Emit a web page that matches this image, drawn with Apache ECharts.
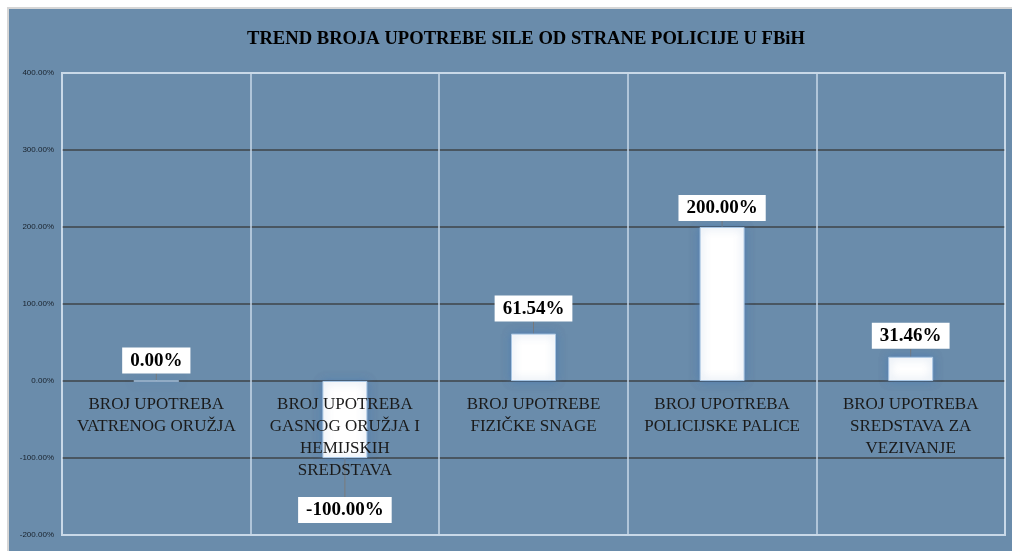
<!DOCTYPE html>
<html>
<head>
<meta charset="utf-8">
<script src="https://cdn.jsdelivr.net/npm/echarts@6/dist/echarts.min.js"></script>
<style>
  html, body { margin: 0; padding: 0; background: #fff; }
  #echart { width: 1012px; height: 551px; }
</style>
</head>
<body>
<div id="echart"></div>
<script>
// kategorije (prelomi redova kao na slici)
var categories = [
    'BROJ UPOTREBA\nVATRENOG ORUŽJA',
    'BROJ UPOTREBA\nGASNOG ORUŽJA I\nHEMIJSKIH\nSREDSTAVA',
    'BROJ UPOTREBE\nFIZIČKE SNAGE',
    'BROJ UPOTREBA\nPOLICIJSKE PALICE',
    'BROJ UPOTREBA\nSREDSTAVA ZA\nVEZIVANJE'
];
var trendValues = [0.00, -100.00, 61.54, 200.00, 31.46];
var yTicks = [-200, -100, 0, 100, 200, 300, 400];

var bg = '#6a8cab';
var serif = '"Liberation Serif", "DejaVu Serif", serif';

var dom = document.getElementById("echart");
var myChart = echarts.init(dom);

// razmak natpisa od stubića (osnovni) i pomak natpisa (sa linijom)
var labelGap = [7, 5, 5, 6, 8];
var labelShift = [0, 34, -7, 0, 0];
var barData = [];
for (var i = 0; i < trendValues.length; i++) {
    barData.push({
        value: trendValues[i],
        label: {
            position: trendValues[i] < 0 ? 'bottom' : 'top',
            distance: labelGap[i]
        }
    });
}

var gridColors = [];
for (var k = 0; k < yTicks.length; k++) {
    gridColors.push(k == 0 || k == yTicks.length - 1 ? '#c9d9e8' : '#3f4448');
}

option = {
    backgroundColor: '#fff',
    graphic: [{
        type: 'rect',
        z: -10,
        shape: { x: 8, y: 8, width: 1010, height: 550 },
        style: { fill: bg, stroke: '#d6d6d6', lineWidth: 2 }
    }],
    title: {
        text: 'TREND BROJA UPOTREBE SILE OD STRANE POLICIJE U FBiH',
        left: 521,
        textAlign: 'center',
        top: 25,
        textStyle: { fontFamily: serif, fontSize: 18.6, fontWeight: 'bold', color: '#000' }
    },
    grid: {
        left: 62, right: 7, top: 73, bottom: 16,
        outerBoundsMode: 'none',
        containLabel: false,
        show: true, borderColor: '#c9d9e8', borderWidth: 2
    },
    xAxis: {
        type: 'category',
        data: categories,
        z: 10,
        axisLine: { show: false, onZero: false },
        axisTick: { show: false },
        splitLine: { show: true, lineStyle: { color: '#c9d9e8', width: 1.5 } },
        axisLabel: {
            interval: 0,
            margin: -141,   // natpisi odmah ispod linije 0%
            fontFamily: serif,
            fontSize: 17,
            lineHeight: 22,
            color: '#1a1a1a'
        }
    },
    yAxis: {
        type: 'value',
        min: -200,
        max: 400,
        interval: 100,
        axisLine: { show: false },
        axisTick: { show: false },
        splitLine: { lineStyle: { color: gridColors, width: 1.5 } },
        axisLabel: {
            margin: 8,
            fontFamily: '"Liberation Sans", sans-serif',
            fontSize: 8,
            color: '#18212b',
            formatter: function (v) { return v.toFixed(2) + '%'; }
        }
    },
    series: [{
        type: 'bar',
        data: barData,
        barWidth: 45,
        itemStyle: {
            color: '#ffffff',
            borderColor: '#a9c6e3',
            borderWidth: 1,
            shadowBlur: 8,
            shadowColor: 'rgba(70,120,180,0.7)'
        },
        label: {
            show: true,
            formatter: function (p) { return p.value.toFixed(2) + '%'; },
            backgroundColor: '#fff',
            padding: [4, 8, 3, 8],
            fontFamily: serif,
            fontSize: 19,
            fontWeight: 'bold',
            color: '#000'
        },
        labelLine: {
            show: true,
            lineStyle: { color: '#7a7a7a', width: 1 }
        },
        labelLayout: function (params) {
            return { dy: labelShift[params.dataIndex] };
        }
    }]
};

myChart.setOption(option);
</script>
</body>
</html>
